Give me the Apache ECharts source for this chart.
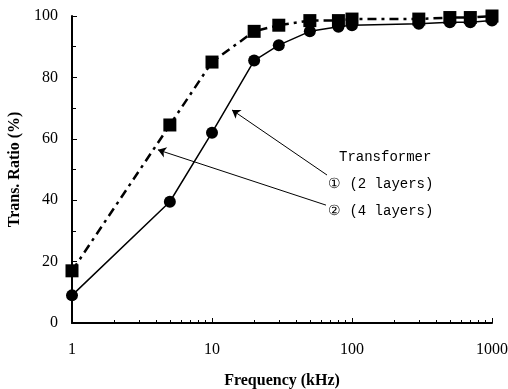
<!DOCTYPE html>
<html><head><meta charset="utf-8">
<script src="https://cdn.jsdelivr.net/npm/echarts@6/dist/echarts.min.js"></script>
<style>html,body{margin:0;padding:0;background:#fff}#c{width:508px;height:389px}</style>
</head><body><div id="c"></div>
<script>
const freq = [1, 5, 10, 20, 30, 50, 80, 100, 300, 500, 700, 1000];
const layers2 = [9, 39.5, 62, 85.5, 90.5, 95, 96.5, 97, 97.5, 98, 98, 98.5];
const layers4 = [17, 64.5, 85, 95, 97, 98.5, 98.5, 99, 99, 99.5, 99.5, 100];
const yTicks = [0, 20, 40, 60, 80, 100];
const xTicks = [1, 10, 100, 1000];

const chart = echarts.init(document.getElementById('c'));
const serif = 'Liberation Serif';
chart.setOption({
  animation: false,
  grid: {left: 72, right: 16, top: 16, bottom: 66, containLabel: false, outerBoundsMode: 'none'},
  xAxis: {
    type: 'log', min: 1, max: 1000, logBase: 10,
    name: 'Frequency (kHz)', nameLocation: 'middle', nameGap: 50,
    nameTextStyle: {fontFamily: serif, fontWeight: 'bold', fontSize: 16, color: '#000'},
    axisLine: {lineStyle: {color: '#000', width: 2}},
    axisTick: {inside: true, length: 5, lineStyle: {color: '#000'}},
    minorTick: {show: true, splitNumber: 9, length: 3, lineStyle: {color: '#000'}},
    splitLine: {show: false},
    axisLabel: {fontFamily: serif, fontSize: 16, color: '#000', margin: 19,
      formatter: v => xTicks.includes(Math.round(v)) ? String(Math.round(v)) : ''}
  },
  yAxis: {
    type: 'value', min: 0, max: 100, interval: 20,
    name: 'Trans. Ratio (%)', nameLocation: 'middle', nameGap: 46, nameRotate: 90,
    nameTextStyle: {fontFamily: serif, fontWeight: 'bold', fontSize: 16, color: '#000'},
    axisLine: {show: true, lineStyle: {color: '#000', width: 2}},
    axisTick: {show: true, inside: true, length: 5, lineStyle: {color: '#000'}},
    minorTick: {show: true, splitNumber: 2, length: 4, lineStyle: {color: '#000'}},
    splitLine: {show: false},
    axisLabel: {fontFamily: serif, fontSize: 16, color: '#000', margin: 14,
      formatter: v => yTicks.includes(v) ? String(v) : ''}
  },
  series: [
    {
      name: '① (2 layers)', type: 'line',
      data: freq.map((f, i) => [f, layers2[i]]),
      symbol: 'circle', symbolSize: 12,
      itemStyle: {color: '#000'},
      lineStyle: {color: '#000', width: 1.5},
      markLine: {
        silent: true, symbol: ['none', 'arrow'], symbolSize: 8,
        lineStyle: {color: '#000', width: 1, type: 'solid'}, label: {show: false},
        data: [[{coord: [66.3, 48.2]}, {coord: [13.9, 69.4]}]]
      }
    },
    {
      name: '② (4 layers)', type: 'line',
      data: freq.map((f, i) => [f, layers4[i]]),
      symbol: 'rect', symbolSize: 13,
      itemStyle: {color: '#000'},
      lineStyle: {color: '#000', width: 2.5, type: [9, 5, 3, 5]},
      markLine: {
        silent: true, symbol: ['none', 'arrow'], symbolSize: 8,
        lineStyle: {color: '#000', width: 1, type: 'solid'}, label: {show: false},
        data: [[{coord: [65.2, 38.4]}, {coord: [4.11, 56.4]}]]
      }
    }
  ],
  graphic: [
    {type: 'text', left: 339, top: 150, style: {text: 'Transformer', font: '14px "Liberation Mono"', fill: '#000'}},
    {type: 'text', left: 328, top: 177, style: {text: '① (2 layers)', font: '14px "Liberation Mono"', fill: '#000'}},
    {type: 'text', left: 328, top: 204, style: {text: '② (4 layers)', font: '14px "Liberation Mono"', fill: '#000'}}
  ]
});
</script></body></html>
